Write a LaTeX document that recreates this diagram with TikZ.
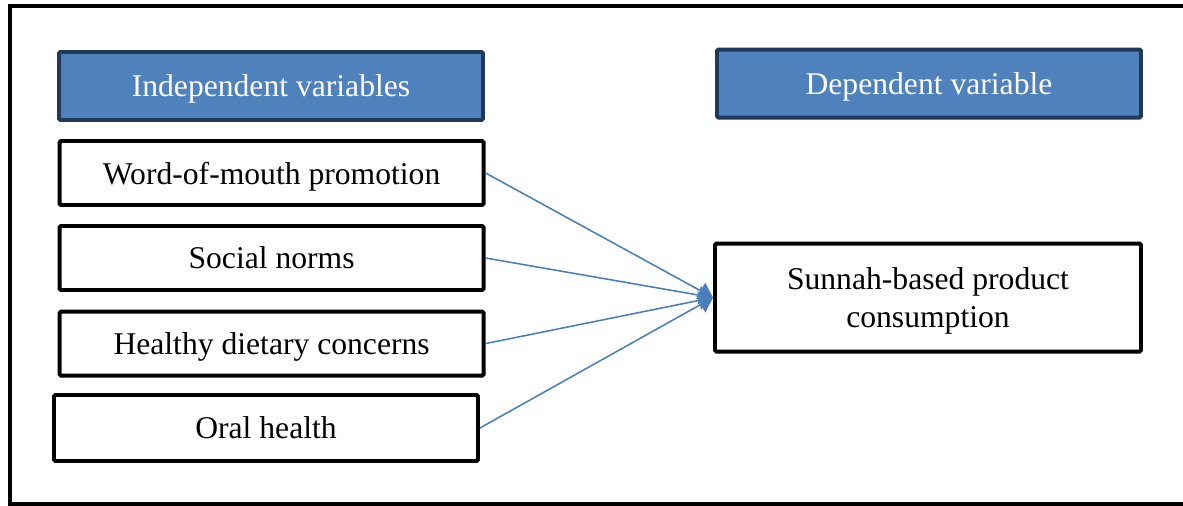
\documentclass[tikz,border=0pt]{standalone}
\usepackage{fontspec}
\setmainfont{Liberation Serif}
\usetikzlibrary{arrows.meta}

\definecolor{hdrfill}{RGB}{79,129,189}
\definecolor{hdrline}{RGB}{33,57,88}
\definecolor{linkblue}{RGB}{74,126,187}

\tikzset{
    hdr/.style={draw=hdrline, fill=hdrfill, line width=2.8pt, rounded corners=1pt,
        minimum width=10.6cm, minimum height=1.7cm, text=white, text depth=0pt,
        font=\fontsize{22.5}{26.5}\selectfont},
    varbox/.style={draw=black, fill=white, line width=2.8pt, rounded corners=1pt,
        minimum width=10.6cm, minimum height=1.6cm, align=center, text depth=0pt,
        font=\fontsize{22.5}{26.5}\selectfont},
    link/.style={draw=linkblue, line width=1.1pt, -{Triangle[length=10pt, width=13pt]}}
}

\begin{document}
\begin{tikzpicture}
    \useasboundingbox (0, 0) rectangle (29.575, 12.65);

    % outer frame (right side runs off the page)
    \draw[line width=2.8pt] (29.7, 12.5) -- (0.25, 12.5) -- (0.25, 0.05) -- (29.7, 0.05);

    % Headers
    \node[hdr] (indep) at (6.775, 10.5) {Independent variables};
    \node[hdr] (dep) at (23.225, 10.56) {Dependent variable};

    % Independent variables
    \node[varbox] (wom) at (6.79, 8.325) {Word-of-mouth promotion};
    \node[varbox] (norms) at (6.79, 6.2) {Social norms};
    \node[varbox] (diet) at (6.79, 4.06) {Healthy dietary concerns};
    \node[varbox, minimum height=1.65cm] (oral) at (6.65, 1.95) {Oral health};

    % Dependent variable
    \node[varbox, minimum width=10.65cm, minimum height=2.7cm] (sunnah) at (23.2, 5.21)
        {Sunnah-based product\\consumption};

    % Links
    \foreach \v in {wom, norms, diet, oral} {
        \draw[link] (\v.east) -- (sunnah.west);
    }

\end{tikzpicture}
\end{document}
